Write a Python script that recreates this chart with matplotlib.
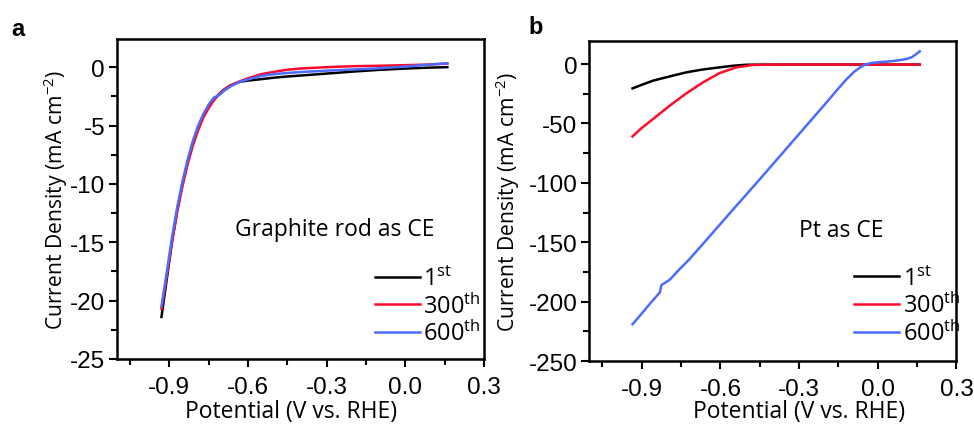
import matplotlib
matplotlib.use("Agg")
import matplotlib.pyplot as plt
from matplotlib.ticker import MultipleLocator

plt.rcParams["font.family"] = ["Liberation Sans", "DejaVu Sans"]
plt.rcParams["mathtext.fontset"] = "custom"
plt.rcParams["mathtext.rm"] = "Open Sans"
plt.rcParams["mathtext.it"] = "Open Sans:italic"
plt.rcParams["mathtext.bf"] = "Open Sans:bold"

# panel a: graphite rod as counter electrode
pot_a = [-0.93, -0.91, -0.89, -0.87, -0.85, -0.83, -0.81, -0.79, -0.77, -0.75,
         -0.73, -0.71, -0.69, -0.67, -0.65, -0.63, -0.60, -0.55, -0.50, -0.45,
         -0.40, -0.30, -0.20, -0.10, 0.00, 0.08, 0.16]
a_1st = [-21.4, -18.2, -15.0, -12.3, -10.0, -8.1, -6.5, -5.2, -4.2, -3.4,
         -2.8, -2.3, -1.9, -1.6, -1.4, -1.25, -1.15, -1.03, -0.9, -0.8,
         -0.72, -0.55, -0.38, -0.23, -0.12, -0.05, 0.0]
a_300 = [-20.7, -17.9, -15.0, -12.4, -10.2, -8.3, -6.7, -5.4, -4.3, -3.5,
         -2.8, -2.3, -1.9, -1.6, -1.4, -1.2, -0.95, -0.6, -0.4, -0.22,
         -0.12, 0.0, 0.08, 0.12, 0.17, 0.22, 0.3]
a_600 = [-20.5, -17.6, -14.6, -12.0, -9.8, -7.9, -6.3, -5.0, -4.0, -3.2,
         -2.6, -2.4, -2.0, -1.7, -1.45, -1.25, -1.05, -0.75, -0.6, -0.5,
         -0.42, -0.3, -0.2, -0.1, 0.05, 0.2, 0.33]

# panel b: Pt as counter electrode
pot_b_1st = [-0.935, -0.90, -0.857, -0.80, -0.73, -0.67, -0.603, -0.55,
             -0.50, -0.40, -0.20, 0.0, 0.16]
b_1st = [-20.5, -17.5, -14.0, -10.8, -7.0, -4.7, -2.8, -1.4,
         -0.6, -0.5, -0.5, -0.5, -0.5]
pot_b_300 = [-0.935, -0.90, -0.857, -0.793, -0.73, -0.666, -0.603, -0.539,
             -0.476, -0.40, -0.20, 0.0, 0.16]
b_300 = [-60.9, -53.8, -46.3, -35.0, -24.7, -15.4, -7.6, -2.8,
         -0.8, -0.5, -0.5, -0.5, -0.5]
pot_b_600 = [-0.935, -0.90, -0.86, -0.831, -0.825, -0.793, -0.755, -0.717,
             -0.65, -0.60, -0.55, -0.50, -0.45, -0.40, -0.35, -0.30, -0.25,
             -0.20, -0.152, -0.12, -0.09, -0.065, -0.045, -0.025, 0.0, 0.033,
             0.07, 0.109, 0.13, 0.147, 0.16]
b_600 = [-219, -210, -199.5, -192.2, -186, -181.5, -172.5, -164,
         -147.2, -134.6, -122, -109.5, -97, -84.3, -71.6, -58.9, -46.2,
         -33.5, -21, -13.0, -6.5, -2.5, -0.3, 0.9, 1.5, 2.0,
         2.8, 4.2, 5.8, 8.4, 10.7]

labels = [r"1$^{\mathrm{st}}$", r"300$^{\mathrm{th}}$", r"600$^{\mathrm{th}}$"]
colors = ["#000000", "#ff0a2a", "#4a6cff"]

fig = plt.figure(figsize=(9.74, 4.27), dpi=100)
ax_a = fig.add_axes([0.120, 0.157, 0.377, 0.749])
ax_b = fig.add_axes([0.605, 0.152, 0.377, 0.750])

for ys, c, lab in zip([a_1st, a_300, a_600], colors, labels):
    ax_a.plot(pot_a, ys, color=c, lw=1.8, label=lab)
ax_b.plot(pot_b_1st, b_1st, color=colors[0], lw=1.8, label=labels[0])
ax_b.plot(pot_b_300, b_300, color=colors[1], lw=1.8, label=labels[1])
ax_b.plot(pot_b_600, b_600, color=colors[2], lw=1.8, label=labels[2])

ax_a.set_ylim(-25, 2.4)
ax_a.yaxis.set_minor_locator(MultipleLocator(2.5))
ax_a.set_yticks([-25, -20, -15, -10, -5, 0])
ax_a.set_yticklabels(["-25", "-20", "-15", "-10", "-5", "0"])
ax_b.set_ylim(-250, 19.5)
ax_b.yaxis.set_minor_locator(MultipleLocator(25))
ax_b.set_yticks([-250, -200, -150, -100, -50, 0])
ax_b.set_yticklabels(["-250", "-200", "-150", "-100", "-50", "0"])

sans = ["Open Sans", "DejaVu Sans"]
# per panel: axes, note, note x, note y, legend anchor, xlabel pos, ylabel x
panels = [
    (ax_a, "Graphite rod as CE", 0.866, 0.405, (0.677, 0.318), (0.474, -0.125), -0.128),
    (ax_b, "Pt as CE", 0.80, 0.41, (0.696, 0.325), (0.572, -0.119), -0.1825),
]
for ax, note, nx, ny, leg_xy, xl_xy, yl_x in panels:
    ax.set_xlim(-1.1, 0.3)
    ax.xaxis.set_minor_locator(MultipleLocator(0.15))
    ax.set_xticks([-0.9, -0.6, -0.3, 0.0, 0.3])
    ax.set_xticklabels(["-0.9", "-0.6", "-0.3", "0.0", "0.3"])
    ax.tick_params(which="both", direction="out", width=1.5, labelsize=17.5)
    ax.tick_params(which="major", length=6)
    ax.tick_params(which="minor", length=4)
    ax.tick_params(axis="x", which="major", pad=6)
    ax.tick_params(axis="y", which="major", pad=2.5)
    for s in ax.spines.values():
        s.set_linewidth(1.8)
    ax.set_xlabel("Potential (V vs. RHE)", family=sans, size=16.5)
    ax.xaxis.set_label_coords(*xl_xy)
    ax.set_ylabel(r"Current Density (mA cm$^{\mathrm{-2}}$)", family=sans, size=15.2)
    ax.yaxis.set_label_coords(yl_x, 0.5)
    ax.text(nx, ny, note, transform=ax.transAxes, ha="right", va="center",
            fontsize=16.5, family=sans)
    ax.legend(loc="upper left", bbox_to_anchor=leg_xy, frameon=False,
              handlelength=1.9, handletextpad=0.15, labelspacing=0.08,
              borderaxespad=0, prop={"family": "Open Sans", "size": 17})

fig.text(0.012, 0.93, "a", fontsize=17, fontweight="bold", ha="left", va="center")
fig.text(0.543, 0.935, "b", fontsize=17, fontweight="bold", ha="left", va="center")

fig.savefig("out.png", dpi=100)
